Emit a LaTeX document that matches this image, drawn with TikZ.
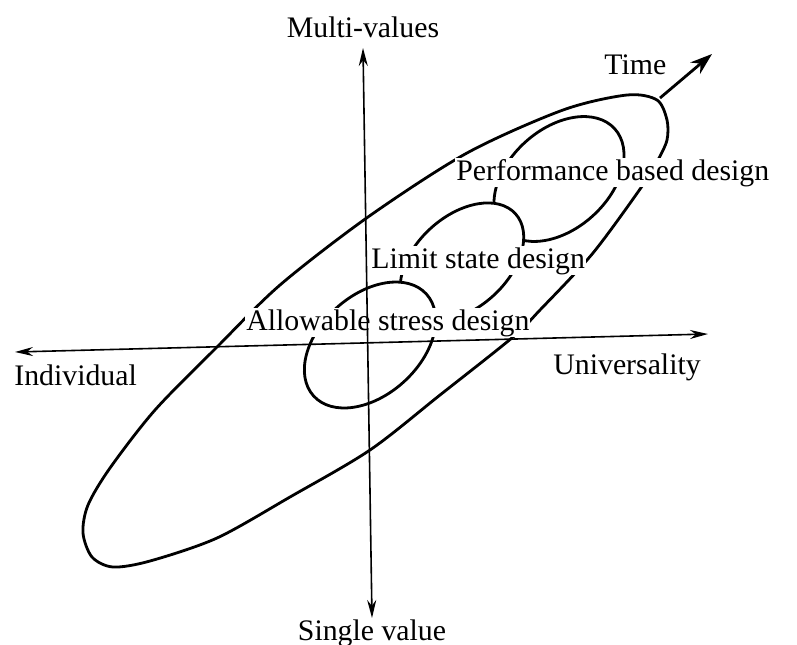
\documentclass[tikz,border=0pt]{standalone}
\usepackage{fontspec}
\setmainfont{Liberation Serif}
\usepackage{tikz}
\usetikzlibrary{arrows.meta}
\tikzset{
  ring/.style={line width=1.4pt,black},
  inner ring/.style={ring,fill=white},
  axis/.style={{Stealth[length=9pt,width=4.5pt]}-{Stealth[length=9pt,width=4.5pt]},line width=0.8pt},
  lbl/.style={font=\fontsize{14.9}{17}\selectfont,inner sep=0.5pt},
  tag/.style={lbl,fill=white},
  tarr/.style={-{Stealth[length=11pt,width=7.5pt]},line width=1.4pt}
}

\begin{document}
\begin{tikzpicture}[x=0.5pt,y=-0.5pt]
\useasboundingbox (0,0) rectangle (797,644);
% outer region
\draw[ring] plot[smooth cycle] coordinates {(563,110) (627,95) (657,100) (667,120)
  (667,140) (658,160) (645,182) (593,253) (540,310) (513,337) (440,395) (370,450)
  (290,497) (217,538) (150,561) (113,567) (92,557) (83,533) (88,505) (110,468)
  (155,410) (217,347) (280,285) (368,217) (467,153)};
% nested design regions, each one hides the part of the next one behind it
\draw[inner ring,rotate around={42:(559,179)}] (559,179) ellipse (75 and 50);
\draw[inner ring,rotate around={42:(462,262)}] (462,262) ellipse (72 and 46);
\draw[inner ring,rotate around={42:(370,345)}] (370,345) ellipse (76 and 50);
\node[tag,anchor=base west] (perf) at (455,180) {Performance based design};
\node[tag,anchor=base west] (limit) at (370,268) {Limit state design};
\node[tag,anchor=base west] (allow) at (245,330) {Allowable stress design};
% time arrow
\coordinate (t0) at (660,98);
\coordinate (t1) at (712,54);
\draw[tarr] (t0) -- (t1);
\node[lbl,anchor=base west] (time) at (603,74) {Time};
% axes
\coordinate (west) at (15,352);
\coordinate (east) at (708,334);
\coordinate (north) at (363,48);
\coordinate (south) at (372,618);
\draw[axis] (west) -- (east);
\draw[axis] (south) -- (north);
\node[lbl,anchor=base] (multi) at (363,37) {Multi-values};
\node[lbl,anchor=base] (single) at (372,640) {Single value};
\node[lbl,anchor=base west] (indiv) at (13,385) {Individual};
\node[lbl,anchor=base west] (univ) at (552,374) {Universality};
\end{tikzpicture}
\end{document}
